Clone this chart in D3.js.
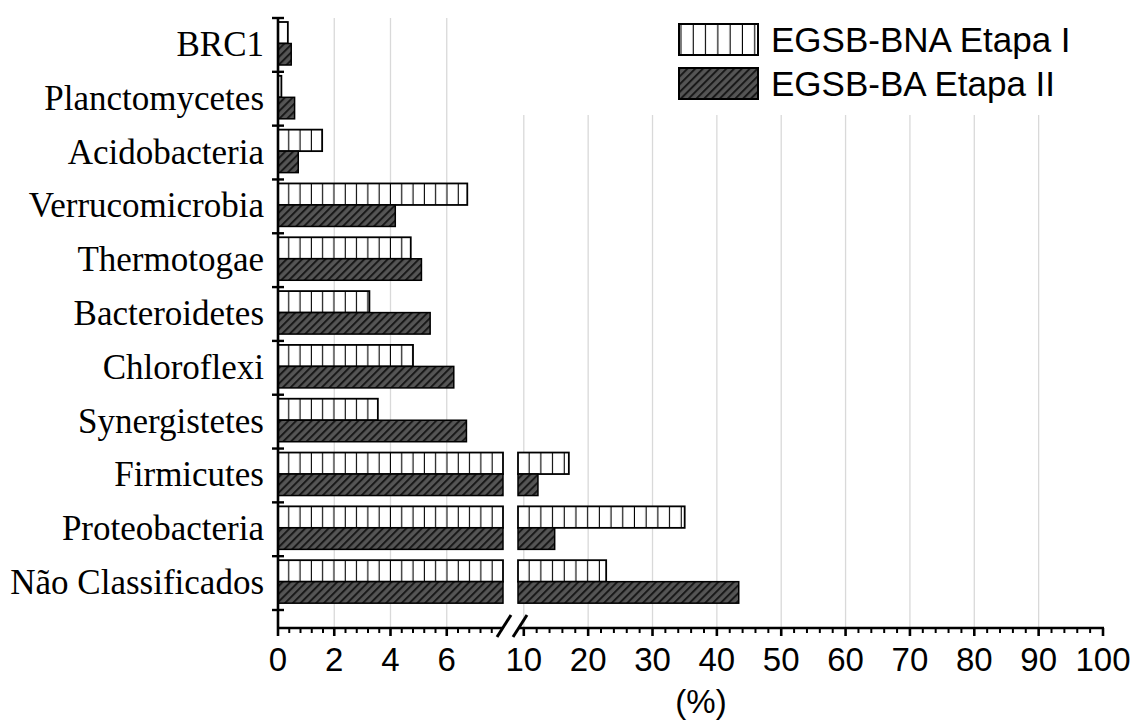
<!DOCTYPE html>
<meta charset="utf-8">
<head>
<style>
    body {margin: 0; background: #fff;}
    svg {display: block;}
</style>
<script src="https://d3js.org/d3.v7.min.js"></script>
</head>
<body>
    <div id="chart"></div>
<script>

// rows, top to bottom
var categories = ["BRC1", "Planctomycetes", "Acidobacteria", "Verrucomicrobia",
    "Thermotogae", "Bacteroidetes", "Chloroflexi", "Synergistetes",
    "Firmicutes", "Proteobacteria", "Não Classificados"];

var seriesNames = ["EGSB-BNA Etapa I", "EGSB-BA Etapa II"];

// relative abundance (%)
var etapa1 = [0.35, 0.12, 1.57, 6.73, 4.72, 3.25, 4.80, 3.55, 17.0, 35.0, 22.8];
var etapa2 = [0.47, 0.59, 0.72, 4.17, 5.10, 5.41, 6.25, 6.70, 12.2, 14.8, 43.4];

var leftTicks = [0, 2, 4, 6];
var rightTicks = [10, 20, 30, 40, 50, 60, 70, 80, 90, 100];

var width = 1136, height = 720;
var breakAt = 8;          // left panel ends here
var rightStart = 9.1;     // right panel starts here

var svg = d3.select("#chart").append("svg")
    .attr("width", width)
    .attr("height", height);

var defs = svg.append("defs");

function vStripes(id, x0, step) {
    var p = defs.append("pattern")
        .attr("id", id)
        .attr("patternUnits", "userSpaceOnUse")
        .attr("x", x0).attr("y", 0)
        .attr("width", step).attr("height", 10);
    p.append("rect").attr("width", step).attr("height", 10).attr("fill", "#fff");
    p.append("rect").attr("x", step - 1.1).attr("width", 2.2).attr("height", 10).attr("fill", "#000");
}
vStripes("stripeL", 278, 11.3);
vStripes("stripeR", 518, 11.7);
vStripes("stripeLeg", 679, 12.3);

var hatch = defs.append("pattern")
    .attr("id", "hatch")
    .attr("patternUnits", "userSpaceOnUse")
    .attr("width", 5.5).attr("height", 5.5)
    .attr("patternTransform", "rotate(45)");
hatch.append("rect").attr("width", 5.5).attr("height", 5.5).attr("fill", "#555");
hatch.append("rect").attr("width", 2).attr("height", 5.5).attr("fill", "#181818");

// scales
var xL = d3.scaleLinear().domain([0, breakAt]).range([278, 503]);
var xR = d3.scaleLinear().domain([rightStart, 100]).range([518, 1103]);
var y = d3.scaleBand().domain(categories).range([18, 610]);
var ySub = d3.scaleBand().domain(seriesNames).range([4, 47]);
var axisY = 628;

// gridlines
svg.append("g").selectAll("line")
    .data(leftTicks.filter(function(d) { return d > 0; }))
    .enter().append("line")
    .attr("x1", function(d) { return xL(d); })
    .attr("x2", function(d) { return xL(d); })
    .attr("y1", 18).attr("y2", axisY)
    .style("stroke", "#d9d9d9").style("stroke-width", 1.3);

svg.append("g").selectAll("line")
    .data(rightTicks.filter(function(d) { return d < 100; }))
    .enter().append("line")
    .attr("x1", function(d) { return xR(d); })
    .attr("x2", function(d) { return xR(d); })
    .attr("y1", 115).attr("y2", axisY)
    .style("stroke", "#d9d9d9").style("stroke-width", 1.3);

// bars
var rows = categories.map(function(c, i) {
    return {cat: c, vals: [etapa1[i], etapa2[i]]};
});
var bars = [];
rows.forEach(function(r) {
    r.vals.forEach(function(v, j) {
        bars.push({cat: r.cat, s: seriesNames[j], j: j, v: v});
    });
});

function barStyle(sel, side) {
    sel.attr("fill", function(d) {
            if (d.j == 1) return "url(#hatch)";
            return side == "L" ? "url(#stripeL)" : "url(#stripeR)";
        })
        .attr("stroke", "#000")
        .attr("stroke-width", function(d) { return d.j == 0 ? 1.8 : 1.5; });
}

svg.append("g").selectAll("rect")
    .data(bars)
    .enter().append("rect")
    .attr("x", xL(0))
    .attr("y", function(d) { return y(d.cat) + ySub(d.s); })
    .attr("width", function(d) { return xL(Math.min(d.v, breakAt)) - xL(0); })
    .attr("height", ySub.bandwidth())
    .call(barStyle, "L");

svg.append("g").selectAll("rect")
    .data(bars.filter(function(d) { return d.v > breakAt; }))
    .enter().append("rect")
    .attr("x", xR(rightStart))
    .attr("y", function(d) { return y(d.cat) + ySub(d.s); })
    .attr("width", function(d) { return xR(d.v) - xR(rightStart); })
    .attr("height", ySub.bandwidth())
    .call(barStyle, "R");

// y axis
var yAxis = svg.append("g");
yAxis.append("line")
    .attr("x1", 278).attr("x2", 278)
    .attr("y1", 17).attr("y2", axisY)
    .style("stroke", "#000").style("stroke-width", 2.6);
yAxis.selectAll("line.tick")
    .data(categories.map(function(c) { return y(c); }).concat([y.range()[1]]))
    .enter().append("line")
    .attr("class", "tick")
    .attr("x1", 272).attr("x2", 284)
    .attr("y1", function(d) { return d; })
    .attr("y2", function(d) { return d; })
    .style("stroke", "#000").style("stroke-width", 2.4);
yAxis.selectAll("text")
    .data(categories)
    .enter().append("text")
    .attr("x", 264)
    .attr("y", function(d) { return y(d) + y.bandwidth() / 2 + 11; })
    .attr("text-anchor", "end")
    .style("font-family", "'Liberation Serif', 'Times New Roman', serif")
    .style("font-size", "35px")
    .text(function(d) { return d; });

// x axes (two panels with a break)
var minorL = d3.range(0, breakAt, 0.4).filter(function(d) { return Math.abs(d / 2 - Math.round(d / 2)) > 0.01; });
var minorR = d3.range(12, 100, 2).filter(function(d) { return d % 10 != 0; });

var xAxis = svg.append("g").style("stroke", "#000");
xAxis.append("line").attr("x1", xL(0) - 1).attr("x2", 502).attr("y1", axisY).attr("y2", axisY).style("stroke-width", 2.6);
xAxis.append("line").attr("x1", 519).attr("x2", xR(100) + 1).attr("y1", axisY).attr("y2", axisY).style("stroke-width", 2.6);

function ticks(data, scale, len, w) {
    xAxis.append("g").selectAll("line")
        .data(data)
        .enter().append("line")
        .attr("x1", function(d) { return scale(d); })
        .attr("x2", function(d) { return scale(d); })
        .attr("y1", axisY).attr("y2", axisY + len)
        .style("stroke-width", w);
}
ticks(leftTicks, xL, 8, 2.6);
ticks(rightTicks, xR, 8, 2.6);
ticks(minorL, xL, 5, 2);
ticks(minorR, xR, 5, 2);

// break marks
[[497, 637, 511, 615], [513, 637, 527, 615]].forEach(function(b) {
    xAxis.append("line")
        .attr("x1", b[0]).attr("y1", b[1]).attr("x2", b[2]).attr("y2", b[3])
        .style("stroke-width", 3);
});

var tickFont = "'Liberation Sans', Arial, sans-serif";
svg.append("g").selectAll("text")
    .data(leftTicks)
    .enter().append("text")
    .attr("x", function(d) { return xL(d); })
    .attr("y", 671)
    .attr("text-anchor", "middle")
    .style("font-family", tickFont).style("font-size", "33px")
    .text(function(d) { return d; });
svg.append("g").selectAll("text")
    .data(rightTicks)
    .enter().append("text")
    .attr("x", function(d) { return xR(d); })
    .attr("y", 671)
    .attr("text-anchor", "middle")
    .style("font-family", tickFont).style("font-size", "33px")
    .text(function(d) { return d; });

svg.append("text")
    .attr("x", 701).attr("y", 713)
    .attr("text-anchor", "middle")
    .style("font-family", tickFont).style("font-size", "33px")
    .text("(%)");

// legend
var legend = svg.append("g");
legend.append("rect")
    .attr("x", 640).attr("y", 8).attr("width", 480).attr("height", 105)
    .attr("fill", "#fff");
var item = legend.selectAll("g")
    .data(seriesNames)
    .enter().append("g")
    .attr("transform", function(d, i) { return "translate(679," + (24 + i * 44) + ")"; });
item.append("rect")
    .attr("width", 79).attr("height", 31)
    .attr("fill", function(d, i) { return i == 0 ? "url(#stripeLeg)" : "url(#hatch)"; })
    .attr("stroke", "#000").attr("stroke-width", 2);
item.append("text")
    .attr("x", 92).attr("y", 28)
    .style("font-family", tickFont).style("font-size", "35px")
    .text(function(d) { return d; });

</script>
</body>
